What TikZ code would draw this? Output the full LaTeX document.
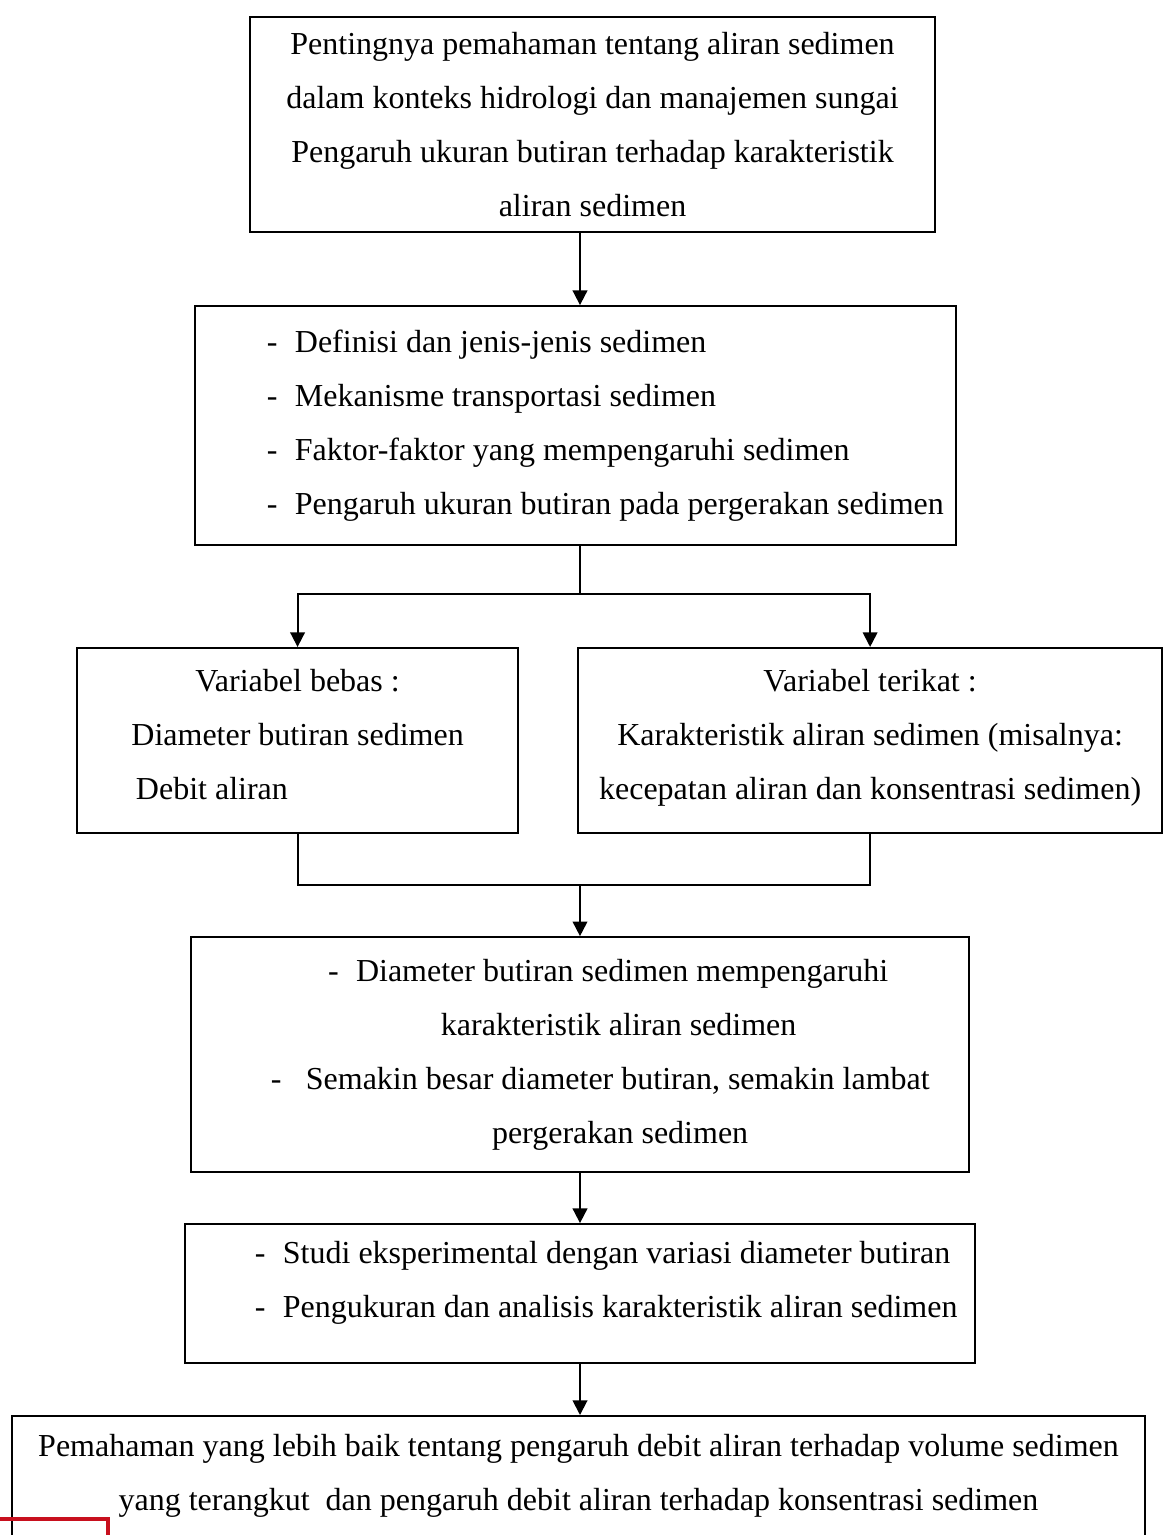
\documentclass[tikz,border=0pt]{standalone}
\usepackage{fontspec}
\setmainfont{Liberation Serif}
\usetikzlibrary{arrows.meta,positioning}

\definecolor{markred}{RGB}{200,16,30}
\newcommand{\itm}{\makebox[10.5pt][l]{-}}

\begin{document}
\begin{tikzpicture}[%
    x=0.375pt, y=-0.375pt,
    >={Triangle[length=5.5pt,width=5.5pt]},
    on grid,
    font=\fontsize{12pt}{20.2pt}\selectfont,
    block/.style={draw, line width=0.75pt, inner xsep=0pt, inner ysep=0pt},
    line/.style={line width=0.7pt}
    ]

    \useasboundingbox (0,0) rectangle (1168,1535);
    \clip (0,0) rectangle (1168,1535);

    \node[block, align=center, minimum width=256.9pt, minimum height=80.6pt] (intro) at (592.5,124.5)
        {Pentingnya pemahaman tentang aliran sedimen\\
         dalam konteks hidrologi dan manajemen sungai\\
         Pengaruh ukuran butiran terhadap karakteristik\\
         aliran sedimen};

    \node[block, text width=285.4pt, align=flush left, minimum height=89.6pt,
          below=112.9pt of intro, xshift=-6.4pt] (theory)
        {\hspace*{27pt}\itm Definisi dan jenis-jenis sedimen\\
         \hspace*{27pt}\itm Mekanisme transportasi sedimen\\
         \hspace*{27pt}\itm Faktor-faktor yang mempengaruhi sedimen\\
         \hspace*{27pt}\itm Pengaruh ukuran butiran pada pergerakan sedimen};

    \node[block, align=center, minimum width=165.4pt, minimum height=69.4pt,
          below=118.1pt of theory, xshift=-104.2pt] (bebas)
        {Variabel bebas :\\
         Diameter butiran sedimen\\
         \makebox[124.6pt][l]{\hspace{1.7pt}Debit aliran}\rule[-4.5pt]{0pt}{4.5pt}};

    \node[block, align=center, minimum width=219pt, minimum height=69.4pt,
          right=214.7pt of bebas] (terikat)
        {Variabel terikat :\\
         Karakteristik aliran sedimen (misalnya:\\
         kecepatan aliran dan konsentrasi sedimen)\rule[-4.5pt]{0pt}{4.5pt}};

    \node[block, text width=291.75pt, align=flush left, minimum height=88.1pt,
          below=235.9pt of theory, xshift=1.7pt] (hipotesis)
        {\hspace*{51.4pt}\itm Diameter butiran sedimen mempengaruhi\\
         \hspace*{93.75pt}karakteristik aliran sedimen\\
         \hspace*{30pt}\makebox[13.1pt][l]{-}Semakin besar diameter butiran, semakin lambat\\
         \hspace*{112.9pt}pergerakan sedimen};

    \node[block, text width=296.25pt, align=flush left, minimum height=52.1pt,
          below=89.6pt of hipotesis] (metode)
        {\hspace*{26.25pt}\itm Studi eksperimental dengan variasi diameter butiran\\
         \hspace*{26.25pt}\itm Pengukuran dan analisis karakteristik aliran sedimen\rule[-10.5pt]{0pt}{10.5pt}};

    \node[block, align=center, minimum width=424.9pt, inner ysep=7pt, anchor=north] (hasil) at (578.5,1415)
        {Pemahaman yang lebih baik tentang pengaruh debit aliran terhadap volume sedimen\\
         yang terangkut\ \ dan pengaruh debit aliran terhadap konsentrasi sedimen\rule[-60pt]{0pt}{60pt}};

    % connectors
    \coordinate (spine) at (580,0);
    \coordinate (merge) at (580,885);
    \draw[line,->] (intro.south -| spine) -- (theory.north -| spine);
    \draw[line] (theory.south -| spine) -- ++(0,48) coordinate (split);
    \draw[line,->] (split) -| (bebas.north);
    \draw[line,->] (split) -| (terikat.north);
    \draw[line] (bebas.south) |- (merge) -| (terikat.south);
    \draw[line,->] (merge) -- (hipotesis.north -| spine);
    \draw[line,->] (hipotesis.south -| spine) -- (metode.north -| spine);
    \draw[line,->] (metode.south -| spine) -- (hasil.north -| spine);

    % red mark at the lower edge
    \draw[markred, line width=1.2pt] (-10,1519) rectangle (108,1560);

\end{tikzpicture}
\end{document}
